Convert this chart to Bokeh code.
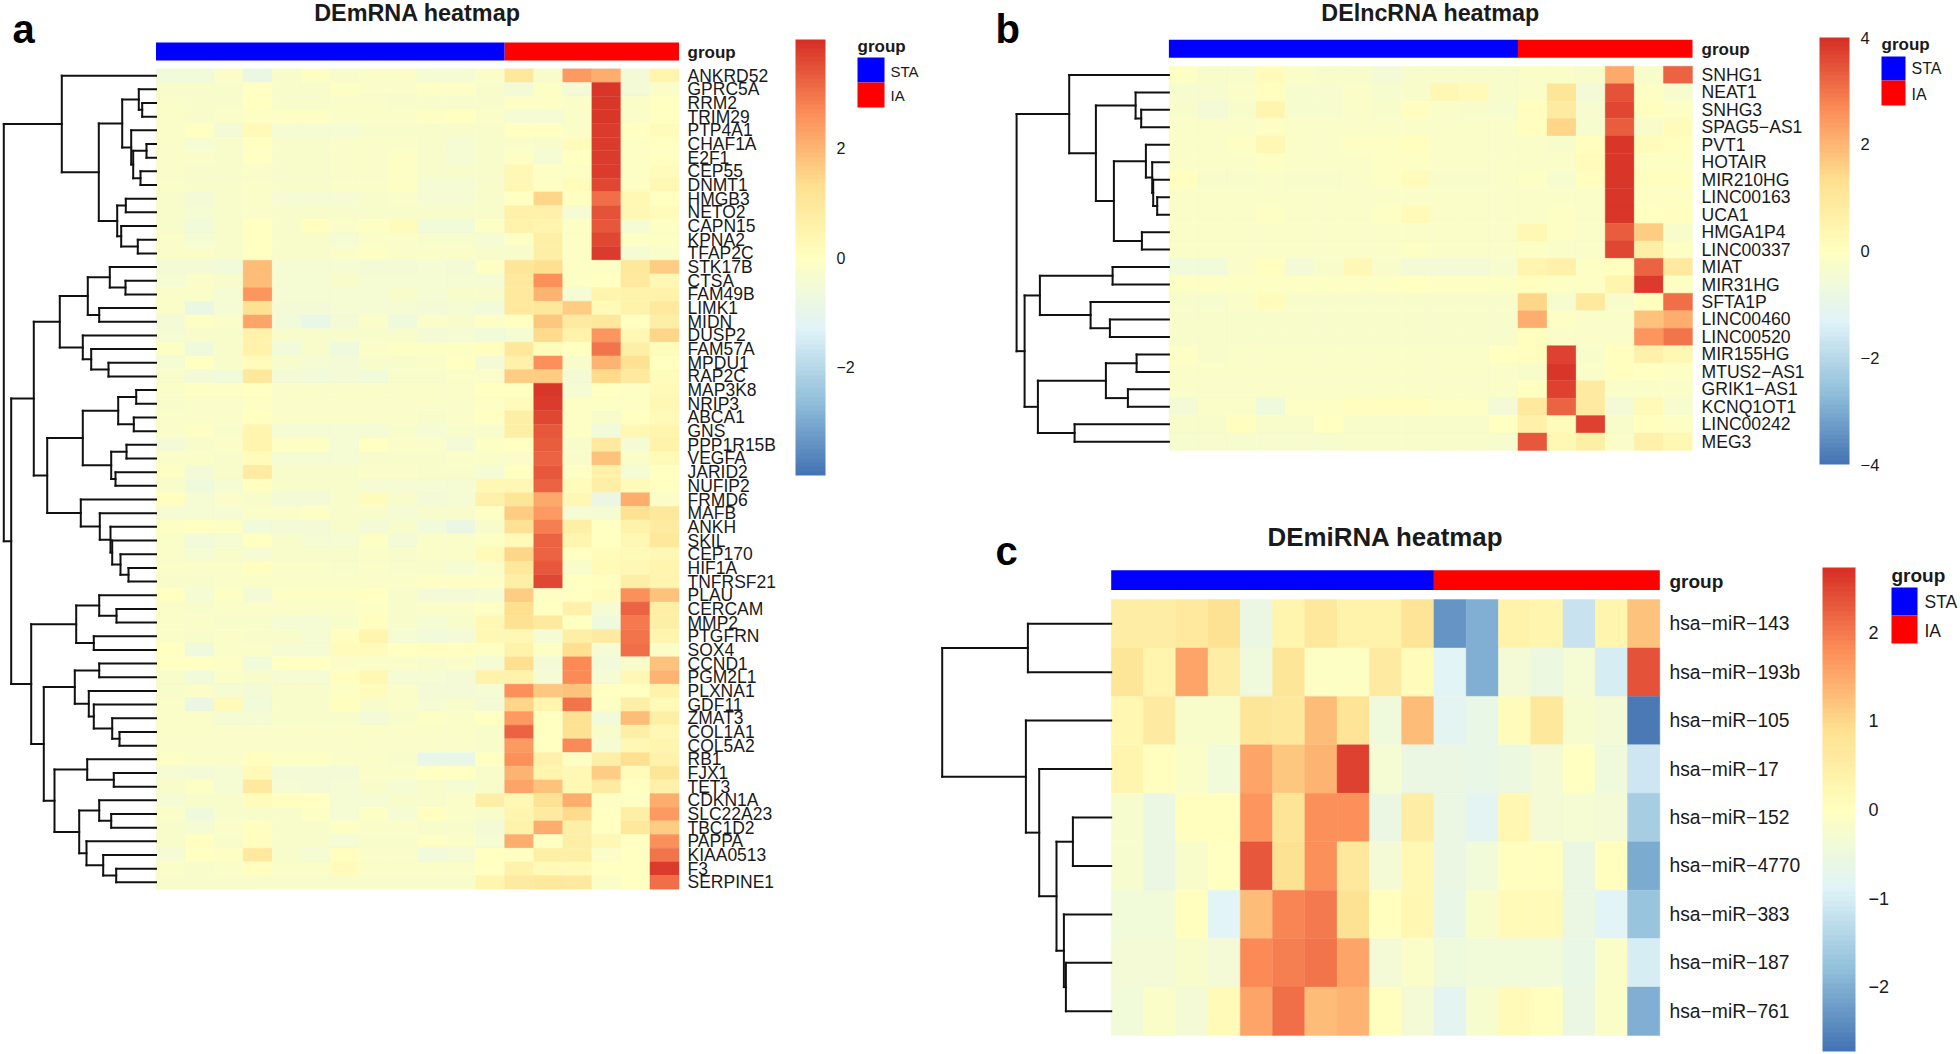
from bokeh.plotting import figure
from bokeh.layouts import row, column
from bokeh.models import Range1d, LinearColorMapper, ColorBar, FixedTicker
from bokeh.core.properties import value
from bokeh.transform import transform
from bokeh.embed import file_html
from bokeh.resources import INLINE

A_TITLE = "DEmRNA heatmap"
B_TITLE = "DElncRNA heatmap"
C_TITLE = "DEmiRNA heatmap"

A_GROUPS = ["STA"] * 12 + ["IA"] * 6
B_GROUPS = ["STA"] * 12 + ["IA"] * 6
C_GROUPS = ["STA"] * 10 + ["IA"] * 7

A_LABELS = ["ANKRD52","GPRC5A","RRM2","TRIM29","PTP4A1","CHAF1A","E2F1","CEP55","DNMT1","HMGB3","NETO2","CAPN15","KPNA2","TFAP2C",
            "STK17B","CTSA","FAM49B","LIMK1","MIDN","DUSP2","FAM57A","MPDU1","RAP2C","MAP3K8","NRIP3","ABCA1","GNS","PPP1R15B",
            "VEGFA","JARID2","NUFIP2","FRMD6","MAFB","ANKH","SKIL","CEP170","HIF1A","TNFRSF21","PLAU","CERCAM","MMP2","PTGFRN",
            "SOX4","CCND1","PGM2L1","PLXNA1","GDF11","ZMAT3","COL1A1","COL5A2","RB1","FJX1","TET3","CDKN1A","SLC22A23","TBC1D2",
            "PAPPA","KIAA0513","F3","SERPINE1"]

A_VALUES = [
 [-.6,-.6,-.2,-.8,-.3,-.1,-.3,-.2,-.2,-.4,-.4,-.2,1.0,-.3,2.4,2.1,-.5,.4],
 [-.3,-.3,-.3,-.05,-.3,-.3,-.1,-.2,-.2,-.1,-.1,-.3,-.5,-.1,-.5,3.9,-.5,-.2],
 [-.2,-.3,-.3,0,-.3,-.3,-.2,-.2,-.3,-.3,-.3,-.3,-.1,-.1,-.2,3.9,-.2,0],
 [-.2,-.3,-.2,-.1,-.1,-.1,-.2,-.2,-.2,-.1,-.05,-.2,-.4,-.4,-.2,3.9,-.2,0],
 [-.2,0,-.5,.2,-.4,-.4,-.4,-.3,-.3,-.3,-.3,-.3,0,-.05,-.2,3.8,0,.1],
 [-.2,-.4,-.3,0,-.3,-.3,-.2,-.2,-.2,-.3,-.4,-.3,-.2,-.3,.1,3.8,-.1,0],
 [-.2,-.2,-.3,-.05,-.3,-.3,-.2,-.2,-.15,-.3,-.4,-.3,-.1,-.4,0,3.8,-.1,0],
 [-.2,-.3,-.3,-.2,-.3,-.3,-.2,-.2,-.1,-.3,-.3,-.3,.3,-.1,-.1,3.8,-.1,.1],
 [-.2,-.3,-.3,-.2,-.3,-.3,-.2,-.2,-.1,-.4,-.4,-.3,.3,-.1,.1,3.6,-.1,.3],
 [-.3,-.5,-.3,-.2,-.4,-.4,-.4,-.3,-.2,-.4,-.4,-.3,0,1.5,0,3.1,.3,0],
 [-.3,-.4,-.3,-.2,-.3,-.3,-.3,-.3,-.3,-.3,-.3,-.3,.6,.6,-.4,3.5,.3,.1],
 [-.3,-.6,-.3,0,-.3,.05,-.2,-.1,.1,-.6,-.6,-.1,.5,.4,-.1,3.4,-.4,-.1],
 [-.2,-.4,-.3,0,-.3,-.3,-.4,-.2,-.2,-.3,-.3,-.4,-.1,.7,-.1,3.6,-.1,-.1],
 [-.2,-.2,-.3,0,-.3,-.3,-.2,-.1,-.2,-.2,-.2,-.3,-.3,.7,-.1,3.8,-.4,-.2],
 [-.5,-.5,-.6,1.9,-.4,-.4,-.4,-.5,-.5,-.4,-.5,-.1,1.1,1.3,-.1,-.15,1.0,1.6],
 [-.4,-.2,-.3,1.9,-.4,-.4,-.3,-.4,-.4,-.4,-.4,-.4,.9,2.6,-.1,0,.9,.3],
 [-.2,-.2,-.4,2.5,-.4,-.4,-.4,-.4,-.3,-.4,-.3,-.3,.9,2.0,-.4,.4,.5,.5],
 [-.2,-.8,-.4,1.2,-.5,-.5,-.4,-.4,-.4,-.5,-.4,-.6,.9,1.0,1.6,.2,.5,.9],
 [-.5,-.1,-.2,2.3,-.6,-.9,-.5,-.2,-.7,-.2,-.3,-.1,0,1.7,.8,1.0,0,.7],
 [-.4,-.3,-.3,.5,-.3,-.3,-.3,-.3,-.3,-.5,-.4,-.6,-.4,1.4,.5,2.5,.3,1.5],
 [-.1,-.7,-.3,.5,-.6,-.3,-.7,-.2,-.1,-.1,-.1,.05,1.0,.1,0,3.0,.7,.1],
 [-.4,0,-.3,.1,-.3,-.4,-.5,-.3,-.3,-.2,0,-.5,.6,2.6,-.3,2.0,1.2,0],
 [-.3,-.5,-.6,1.0,-.5,-.6,-.5,-.6,-.3,-.3,-.2,-.2,1.6,1.6,-.5,1.4,.9,.1],
 [-.2,-.1,-.1,0,-.2,-.2,-.2,-.2,-.2,-.2,-.2,-.05,-.05,3.9,-.4,0,-.1,.2],
 [-.3,-.2,-.2,-.1,-.2,-.2,-.2,-.2,-.2,-.2,-.2,-.1,.1,3.8,-.1,-.1,-.1,.3],
 [-.2,-.2,-.2,-.05,-.2,-.2,-.2,-.2,-.2,-.3,-.2,0,.7,3.6,-.1,-.3,0,.2],
 [-.2,-.1,-.3,.4,-.4,-.4,-.4,-.4,-.3,-.4,-.3,-.3,.7,3.4,-.1,-.6,.3,.4],
 [-.5,-.3,-.2,.4,-.1,-.1,-.4,0,-.2,-.2,-.5,-.1,0,3.3,-.3,.9,-.4,.5],
 [-.2,-.2,-.3,.1,-.4,-.4,-.4,-.3,-.3,-.3,-.2,-.2,-.2,3.2,-.3,1.8,-.2,.2],
 [-.1,-.5,-.3,.8,-.3,-.3,-.3,-.2,-.2,-.3,-.3,-.4,0,3.4,-.1,.6,-.4,0],
 [-.3,-.7,-.4,.05,-.3,-.3,-.3,-.4,-.4,-.4,-.4,.3,.3,3.2,.1,.7,.2,0],
 [.05,-.4,-.2,-.3,-.5,-.5,-.3,.1,-.3,-.5,-.4,.6,1.1,2.2,.3,-.8,2.1,-.2],
 [-.4,-.4,-.4,-.2,-.2,-.15,-.3,-.3,-.4,-.3,-.3,-.1,1.6,2.4,-.4,-.4,1.2,1.0],
 [-.1,0,-.1,-.6,-.5,-.5,-.3,-.5,-.3,-.6,-.8,-.3,1.2,2.8,.7,0,.5,.8],
 [-.2,-.6,-.4,-.05,-.3,-.4,-.4,-.1,-.5,-.2,-.2,-.1,.2,3.2,.4,0,.3,1.0],
 [-.2,-.4,-.3,-.4,-.3,-.3,-.3,-.2,-.3,-.2,-.2,.2,1.5,3.2,0,.1,.2,.3],
 [-.2,-.2,-.2,.05,-.2,-.2,-.25,-.2,-.25,-.3,-.4,-.2,1.0,3.4,-.3,.2,.3,.4],
 [-.3,-.3,-.2,-.2,-.2,-.2,-.2,-.2,-.2,-.1,-.1,-.1,.7,3.6,0,.05,.7,.4],
 [-.05,-.4,-.1,-.5,-.1,-.1,-.1,0,-.3,-.5,-.5,-.4,1.6,-.1,-.05,.1,2.6,1.8],
 [-.2,-.3,-.2,-.2,-.2,-.2,-.2,-.1,-.3,-.2,-.2,-.1,1.3,-.05,.6,-.4,3.2,.7],
 [-.2,-.2,-.3,-.3,-.4,-.4,-.3,.05,-.3,-.4,-.3,.3,1.2,.9,0,-.7,2.9,.7],
 [-.2,-.3,-.2,-.3,-.3,-.4,.05,.4,-.4,-.6,-.5,.3,.3,-.4,.7,.8,3.0,.4],
 [0,-.7,-.2,-.2,-.4,-.4,.1,.1,0,.05,.05,-.1,.5,-.1,1.3,-.4,3.1,-.2],
 [0,-.05,-.1,-.6,-.05,-.05,-.2,-.2,-.2,-.3,-.2,-.4,1.3,-.5,2.7,-.6,-.3,1.8],
 [-.3,-.6,-.2,-.3,-.4,-.4,.02,.3,-.4,-.4,-.5,.5,.5,-.4,2.7,-.4,.3,2.0],
 [-.3,-.2,-.4,-.5,-.3,-.3,-.1,.1,-.2,-.5,-.5,-.4,2.6,1.7,1.8,-.05,-.05,.5],
 [-.2,-.8,.2,-.6,-.3,-.3,.05,-.3,-.2,-.4,-.3,-.5,1.5,.4,3.0,-.1,.7,.2],
 [-.2,-.2,-.4,-.4,-.3,-.3,-.3,-.5,-.3,-.15,-.2,-.05,2.4,-.05,1.2,-.6,1.9,.7],
 [-.2,-.2,-.2,-.2,-.2,-.2,-.2,-.2,-.2,-.2,-.2,-.3,3.2,-.05,1.2,-.3,.7,.3],
 [-.2,-.2,-.2,-.2,-.2,-.2,-.2,-.2,-.2,-.2,-.2,-.3,2.4,-.05,2.7,-.4,.3,.4],
 [-.1,-.2,-.2,.05,-.1,-.1,-.2,-.2,-.3,-.9,-.9,-.05,2.6,.6,-.1,.7,1.3,.5],
 [-.4,-.5,-.4,.2,-.5,-.5,-.5,-.2,-.2,-.05,-.05,-.3,2.0,.4,.3,1.6,.1,1.1],
 [-.3,-.1,-.4,.9,-.4,-.5,-.4,-.3,-.4,-.3,-.4,-.3,2.3,1.8,.3,.8,-.05,.6],
 [-.4,-.3,-.3,.1,.05,-.05,-.4,-.4,-.3,-.3,-.2,.7,.3,1.2,2.1,-.1,-.1,2.1],
 [-.2,-.7,-.3,-.3,-.3,-.1,-.4,-.1,-.4,.05,-.2,-.3,.4,.8,1.4,-.05,.7,2.4],
 [-.3,-.4,-.2,.05,-.3,-.3,-.1,-.2,-.2,-.3,-.3,-.5,.5,2.1,.7,0,1.0,1.6],
 [-.3,.05,-.3,.05,-.3,-.3,-.4,-.3,-.3,-.1,-.2,-.4,2.1,-.05,.7,.3,0,2.6],
 [-.4,-.05,-.1,.9,-.3,-.4,.05,-.2,-.2,-.6,-.4,0,0,.7,.7,-.2,0,3.0],
 [-.2,-.3,-.2,.02,-.2,-.2,.1,-.2,-.2,-.2,-.2,0,.5,.2,.2,-.05,0,3.8],
 [-.3,-.3,-.3,-.3,-.3,-.3,-.3,-.3,-.3,-.3,-.3,.4,.8,1.0,.9,-.2,0,3.1],
]

B_LABELS = ["SNHG1","NEAT1","SNHG3","SPAG5\u2212AS1","PVT1","HOTAIR","MIR210HG","LINC00163","UCA1","HMGA1P4","LINC00337","MIAT",
            "MIR31HG","SFTA1P","LINC00460","LINC00520","MIR155HG","MTUS2\u2212AS1","GRIK1\u2212AS1","KCNQ1OT1","LINC00242","MEG3"]

B_VALUES = [
 [-.1,-.3,-.3,.1,-.2,-.3,-.3,-.5,-.3,-.3,-.3,-.3,-.2,-.2,-.3,2.2,-.3,3.2],
 [-.4,-.4,-.2,0,-.4,-.4,-.2,-.4,-.3,.25,.2,-.3,-.2,1.1,-.5,3.5,-.1,-.4],
 [-.3,-.5,-.3,.4,-.4,-.4,-.2,-.3,.05,-.2,-.3,-.4,0,.8,-.4,3.6,0,-.1],
 [-.2,-.2,-.2,-.1,-.2,-.2,-.2,-.2,-.2,-.2,-.2,-.2,0,1.5,-.4,3.3,-.3,.15],
 [-.2,-.2,-.1,.3,-.2,-.2,-.1,-.1,.05,-.2,-.2,-.2,-.2,-.3,0,3.9,.1,0],
 [-.2,-.2,-.2,-.1,-.2,-.2,-.2,-.1,-.1,-.2,-.2,-.2,-.2,-.2,.1,3.9,-.1,-.1],
 [.05,-.3,-.3,-.2,-.3,-.3,-.2,-.1,.1,-.3,-.3,-.2,-.1,-.4,0,3.9,0,0],
 [-.2,-.2,-.2,-.2,-.2,-.2,-.2,-.2,-.2,-.2,-.2,-.2,-.2,-.2,-.2,3.9,-.1,-.15],
 [-.2,-.2,-.2,-.15,-.2,-.2,-.2,-.1,.2,-.2,-.2,-.2,-.2,-.1,-.2,3.9,-.05,0],
 [-.2,-.2,-.2,-.2,-.2,-.2,-.2,-.2,-.2,-.2,-.2,-.2,.3,-.15,-.2,3.3,1.6,-.3],
 [-.2,-.2,-.2,-.2,-.2,-.2,-.2,-.2,-.1,-.2,-.2,-.2,-.1,-.2,-.2,3.6,.7,-.1],
 [-.6,-.6,-.2,.05,-.5,-.3,.3,-.3,-.5,-.5,-.5,-.4,.4,.6,-.1,.05,3.2,.9],
 [-.1,-.1,-.1,-.1,-.1,-.1,-.1,-.1,-.05,-.1,-.15,-.15,.05,-.15,-.15,.4,3.8,-.1],
 [-.3,-.4,-.2,.1,-.3,-.3,-.3,-.3,-.3,-.3,-.3,-.3,1.5,-.4,.9,-.3,.05,3.1],
 [-.25,-.25,-.25,-.25,-.25,-.25,-.25,-.25,-.25,-.25,-.25,-.25,2.1,-.15,-.2,-.2,1.8,2.1],
 [-.25,-.25,-.25,-.25,-.25,-.25,-.25,-.25,-.25,-.25,-.25,-.25,0,-.2,-.2,-.2,2.5,3.0],
 [-.15,-.25,-.2,-.2,-.2,-.2,-.2,-.2,-.2,-.2,-.2,-.05,0,3.7,-.3,.02,.6,.3],
 [-.2,-.2,-.2,-.2,-.2,-.2,-.2,-.2,-.2,-.2,-.2,-.2,-.25,3.9,-.2,.02,-.05,-.15],
 [-.2,-.2,-.2,-.2,-.2,-.2,-.2,-.2,-.2,-.2,-.2,-.2,-.05,3.7,.8,-.2,-.2,-.2],
 [-.5,-.2,-.2,-.7,-.1,-.1,0,0,0,-.1,-.1,-.5,.9,3.2,.8,-.5,.2,-.4],
 [-.3,-.3,.05,-.3,-.3,-.05,-.3,-.3,-.3,-.3,-.3,-.05,.6,.1,3.7,-.3,0,-.1],
 [-.4,-.4,-.4,-.4,-.4,-.4,-.3,-.3,-.3,-.3,-.3,-.4,3.4,.3,.7,-.2,.6,.3],
]

C_LABELS = ["hsa\u2212miR\u2212143","hsa\u2212miR\u2212193b","hsa\u2212miR\u2212105","hsa\u2212miR\u221217","hsa\u2212miR\u2212152",
            "hsa\u2212miR\u22124770","hsa\u2212miR\u2212383","hsa\u2212miR\u2212187","hsa\u2212miR\u2212761"]

C_VALUES = [
 [.5,.5,.65,.85,-.55,.3,.7,.35,.35,.8,-2.3,-2.0,.35,.3,-1.2,.3,1.25],
 [.75,.3,1.55,.5,-.45,.75,-.1,-.1,.55,.1,-.85,-2.0,-.35,-.5,-.3,-1.0,2.35],
 [.25,.6,-.2,-.2,.75,.7,1.3,.8,-.45,1.3,-.8,-.65,.1,.7,-.25,-.35,-2.65],
 [.3,.03,-.15,-.4,1.55,1.15,1.4,2.55,-.3,-.6,-.6,-.65,-.5,-.35,-.05,-.45,-1.1],
 [-.25,-.6,.02,.02,1.7,.8,1.8,1.8,-.55,.5,-.6,-.8,.25,-.35,-.3,-.35,-1.55],
 [-.25,-.55,-.2,0,2.3,.85,1.75,.7,-.35,.2,-.6,-.4,.05,.05,-.55,.03,-2.05],
 [-.4,-.4,.03,-.85,1.3,1.9,2.0,.85,.03,.25,-.65,-.2,.15,.15,-.55,-.85,-1.7],
 [-.35,-.35,-.2,-.35,1.85,1.95,2.05,1.55,-.35,-.15,-.45,-.4,-.4,-.4,-.65,-.15,-1.0],
 [-.4,-.15,-.35,.15,1.55,2.1,1.3,1.4,.03,-.35,-.8,-.25,.15,.05,-.55,-.15,-2.0],
]

# Dendrograms: node = (merge height, child, child); an int child is a 1-based row.
A_TREE = (152.2,
 (94.2, 1,
  (57.2,
   (33.8, (17.2, 2, (13.8, 3, 4)), (24.8, 5, (22.8, (9.5, 6, 7), (15.5, 8, 9)))),
   (38.8, (30.2, 10, 11), (34.8, 12, (18.2, 13, 14))))),
 (144.8,
  (122.2,
   (96.2,
    (68.2, (46.2, 15, (30.5, 16, 17)), (56.8, 18, 19)),
    (73.2, 20, (64.8, 21, (47.5, 22, 23)))),
   (108.8,
    (73.2, (37.8, (19.8, 24, 25), (22.2, 26, 27)), (44.8, (29.5, 28, 29), (40.5, 30, 31))),
    (75.2, 32, (56.2, 33, (45.5, 34, (43.8, 35, (35.5, 36, (27.5, 37, 38)))))))),
  (124.8,
   (79.8, (56.8, 39, (39.5, 40, 41)), (62.2, 42, 43)),
   (112.2,
    (81.2, (56.8, 44, 45), (67.2, 46, (62.2, 47, (43.8, 48, (36.5, 49, 50))))),
    (101.5,
     (68.8, 51, (42.2, 52, 53)),
     (76.8, (56.8, 54, (44.8, 55, 56)), (69.5, 57, (52.8, 58, (39.8, 59, 60)))))))))

B_TREE = (152.3,
 (99.7, 1,
  (73,
   (33.3, 2, (27.7, 3, 4)),
   (55, (23, 5, (16.7, 6, (15.7, 7, (11.7, 8, 9)))), (27, 10, 11)))),
 (144.3,
  (129, (56.3, 12, 13), (78.3, 14, (59, 15, 16))),
  (131, (63, (32.3, 17, 18), (41, 19, 20)), (94.3, 21, 22))))

C_TREE = (169,
 (83.3, 1, 2),
 (85.3, 3, (72, 4, (54.7, (38.3, 5, 6), (47.3, 7, (45.3, 8, 9))))))

RAMP = ["#4575B4", "#91BFDB", "#E0F3F8", "#FFFFBF", "#FEE090", "#FC8D59", "#D73027"]


def make_palette(n=100):
    rgb = [tuple(int(c[i:i + 2], 16) for i in (1, 3, 5)) for c in RAMP]
    out = []
    for k in range(n):
        t = k / (n - 1) * (len(rgb) - 1)
        i = min(int(t), len(rgb) - 2)
        f = t - i
        out.append("#%02X%02X%02X" % tuple(round(a + (b - a) * f) for a, b in zip(rgb[i], rgb[i + 1])))
    return out


PALETTE = make_palette()
FONT = value("Liberation Sans")
GROUP_COLORS = {"STA": "#0000FF", "IA": "#FF0000"}
INK = "#1a1a1a"


def tree_segments(node, out):
    if isinstance(node, int):
        return node - 0.5, 0.0
    h, a, b = node
    ya, ha = tree_segments(a, out)
    yb, hb = tree_segments(b, out)
    out.append((h, ya, h, yb))
    out.append((h, ya, ha, ya))
    out.append((h, yb, hb, yb))
    return (ya + yb) / 2, h


def panel(frame, heat, bar, title, title_y, letter, letter_x, letter_y, labels, values, groups, tree,
          label_size, label_x, group_y, cbar, cb_ticks, cb_text_x, cb_size, vmax, legend, legend_sizes):
    fx0, fy0, fw, fh = frame
    hx0, hx1, hy0, hy1 = heat
    nr, nc = len(labels), len(groups)
    cw = (hx1 - hx0) / nc
    rh = (hy1 - hy0) / nr
    X = lambda px: (px - hx0) / cw
    Y = lambda py: (py - hy0) / rh

    p = figure(width=fw, height=fh, output_backend="svg", toolbar_location=None, tools="",
               x_range=Range1d(X(fx0), X(fx0 + fw)), y_range=Range1d(Y(fy0 + fh), Y(fy0)),
               x_axis_location=None, y_axis_location=None, min_border=0,
               background_fill_color="white", border_fill_color="white", outline_line_color=None)
    p.xgrid.visible = False
    p.ygrid.visible = False

    mapper = LinearColorMapper(palette=PALETTE, low=-vmax, high=vmax)
    xs, ys, vs = [], [], []
    for r, rowvals in enumerate(values):
        for c, v in enumerate(rowvals):
            xs.append(c + 0.5)
            ys.append(r + 0.5)
            vs.append(v)
    p.rect(x="x", y="y", width=1, height=1, fill_color=transform("v", mapper),
           line_color=transform("v", mapper), line_width=0.4,
           source=dict(x=xs, y=ys, v=vs))

    # column annotation bar: one block per run of equal group
    n_sta = groups.count("STA")
    p.rect(x=[n_sta / 2, (n_sta + nc) / 2], y=[Y((bar[0] + bar[1]) / 2)] * 2,
           width=[n_sta, nc - n_sta], height=(bar[1] - bar[0]) / rh,
           fill_color=[GROUP_COLORS["STA"], GROUP_COLORS["IA"]], line_color=None)

    # dendrogram
    segs = []
    tree_segments(tree, segs)
    p.segment(x0=[-s[0] / cw for s in segs], y0=[s[1] for s in segs],
              x1=[-s[2] / cw for s in segs], y1=[s[3] for s in segs],
              line_color="#111111", line_width=2, line_cap="square")

    # row labels
    p.text(x=[X(label_x)] * nr, y=[r + 0.5 for r in range(nr)], text=labels, text_font=FONT,
           text_font_size=value(f"{label_size}px"), text_baseline="middle", text_align="left", text_color=INK)
    p.text(x=[X(label_x)], y=[Y(group_y)], text=["group"], text_font=FONT, text_font_style="bold",
           text_font_size=value(f"{legend_sizes[0]}px"), text_baseline="middle", text_color=INK)

    # title + panel letter
    p.text(x=[nc / 2], y=[Y(title_y)], text=[title[0]], text_font=FONT, text_font_style="bold",
           text_font_size=value(f"{title[1]}px"), text_align="center", text_baseline="middle", text_color=INK)
    p.text(x=[X(letter_x)], y=[Y(letter_y)], text=[letter[0]], text_font=FONT, text_font_style="bold",
           text_font_size=value(f"{letter[1]}px"), text_align="left", text_baseline="middle", text_color="black")

    # colour bar
    cx0, cx1, cy0, cy1 = cbar
    cb = ColorBar(color_mapper=mapper, ticker=FixedTicker(ticks=cb_ticks),
                  major_label_overrides={t: str(t).replace("-", "\u2212") for t in cb_ticks},
                  width=cx1 - cx0, height=cy1 - cy0,
                  location=(cx0 - fx0, fy0 + fh - cy1), padding=0, margin=0,
                  background_fill_alpha=0, bar_line_color=None, major_tick_line_color=None,
                  minor_tick_line_color=None, border_line_color=None,
                  label_standoff=cb_text_x - cx1,
                  major_label_text_font="Liberation Sans", major_label_text_font_size=f"{cb_size}px",
                  major_label_text_color=INK)
    p.add_layout(cb, "center")

    # group legend
    lx0, lx1, ly0, ly1, ly2, ltext, leg_title_y, sta_y, ia_y = legend
    p.rect(x=[X((lx0 + lx1) / 2)] * 2, y=[Y((ly0 + ly1) / 2), Y((ly1 + ly2) / 2)],
           width=(lx1 - lx0) / cw, height=[(ly1 - ly0) / rh, (ly2 - ly1) / rh],
           fill_color=["#0000FF", "#FF0000"], line_color=None)
    p.text(x=[X(lx0)], y=[Y(leg_title_y)], text=["group"], text_font=FONT, text_font_style="bold",
           text_font_size=value(f"{legend_sizes[0]}px"), text_baseline="middle", text_color=INK)
    p.text(x=[X(ltext)] * 2, y=[Y(sta_y), Y(ia_y)], text=["STA", "IA"], text_font=FONT,
           text_font_size=value(f"{legend_sizes[1]}px"), text_baseline="middle", text_color=INK)
    return p


pa = panel((0, 0, 935, 1052), (155.5, 678.5, 68.3, 888.7), (42, 60),
           (A_TITLE, 23.4), 12.5, ("a", 40), 12, 28, A_LABELS, A_VALUES, A_GROUPS, A_TREE,
           17.5, 687, 51.5, (795, 825, 39, 475), [-2, 0, 2], 836, 16, 3.98,
           (857, 884, 57, 82, 107, 890, 46, 71, 95), (17, 15))
pb = panel((935, 0, 1025, 510), (1168.4, 1692, 65.7, 450), (39.3, 57.3),
           (B_TITLE, 23.3), 12, ("b", 40), 995, 28, B_LABELS, B_VALUES, B_GROUPS, B_TREE,
           17.6, 1701, 49, (1819, 1849, 37, 464), [-4, -2, 0, 2, 4], 1860, 16.5, 4,
           (1881, 1905, 56, 80, 105, 1911, 44, 68, 94), (17, 16))
pc = panel((935, 510, 1025, 542), (1110.7, 1659.3, 599, 1035), (569.7, 589.5),
           (C_TITLE, 25.9), 536.5, ("c", 40), 995, 550, C_LABELS, C_VALUES, C_GROUPS, C_TREE,
           19.3, 1669, 580.5, (1822, 1855, 567, 1051), [-2, -1, 0, 1, 2], 1868, 18, 2.73,
           (1891, 1917, 587, 615, 643, 1924, 575, 601.5, 630), (19, 17.5))

root = row(pa, column(pb, pc))
open("out.html", "w").write(file_html(root, INLINE))
